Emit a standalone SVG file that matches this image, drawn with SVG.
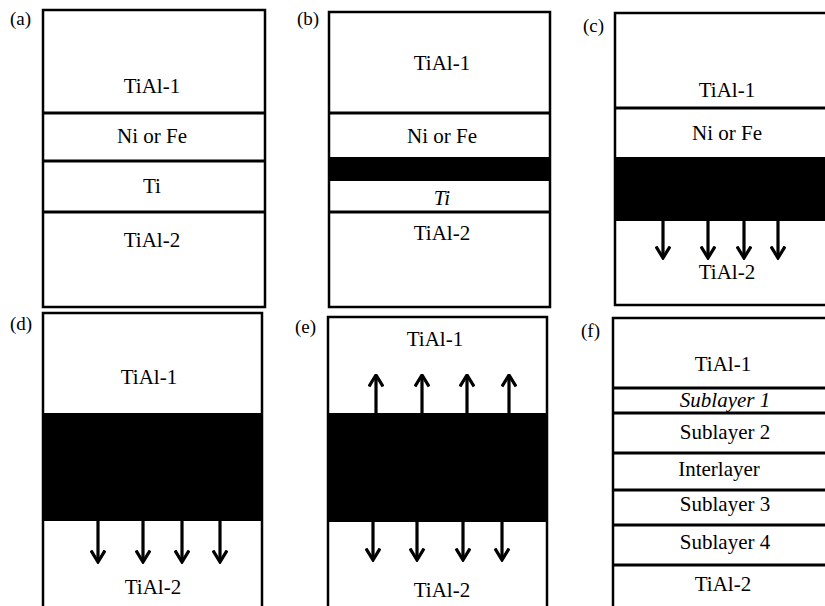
<svg xmlns="http://www.w3.org/2000/svg" width="825" height="606" viewBox="0 0 825 606">
<style>
  .box { fill: #fff; stroke: #000; stroke-width: 2.5; }
  .div { stroke: #000; stroke-width: 3; fill: none; }
  .band { fill: #000; }
  .t { font-family: "Liberation Serif", "Times New Roman", serif; font-size: 21px; text-anchor: middle; fill: #000; }
  .it { font-style: italic; }
  .lab { font-family: "Liberation Serif", "Times New Roman", serif; font-size: 19px; fill: #000; }
  .arr { stroke: #000; stroke-width: 3.2; fill: none; marker-end: url(#head); }
</style>
<defs>
  <marker id="head" viewBox="0 0 14 16" refX="12.5" refY="8" markerWidth="14" markerHeight="16" markerUnits="userSpaceOnUse" orient="auto">
    <path d="M1,1 L12.5,8 L1,15" fill="none" stroke="#000" stroke-width="3.2"/>
  </marker>
</defs>
<rect width="825" height="606" fill="#fff"/>

<g id="panel-a">
  <rect class="box" x="43" y="10" width="222" height="297"/>
  <line class="div" x1="43" y1="113" x2="265" y2="113"/>
  <line class="div" x1="43" y1="161" x2="265" y2="161"/>
  <line class="div" x1="43" y1="212" x2="265" y2="212"/>
  <text class="lab" x="10" y="25">(a)</text>
  <text class="t" x="152" y="93">TiAl-1</text>
  <text class="t" x="152" y="143">Ni or Fe</text>
  <text class="t" x="152" y="193">Ti</text>
  <text class="t" x="152" y="247">TiAl-2</text>
</g>

<g id="panel-b">
  <rect class="box" x="329" y="12" width="221" height="295"/>
  <line class="div" x1="329" y1="113" x2="550" y2="113"/>
  <rect class="band" x="329" y="157" width="221" height="24"/>
  <line class="div" x1="329" y1="212" x2="550" y2="212"/>
  <text class="lab" x="297" y="25">(b)</text>
  <text class="t" x="442" y="70">TiAl-1</text>
  <text class="t" x="442" y="143">Ni or Fe</text>
  <text class="t it" x="442" y="205">Ti</text>
  <text class="t" x="442" y="240">TiAl-2</text>
</g>

<g id="panel-c">
  <rect class="box" x="615" y="13" width="215" height="292"/>
  <line class="div" x1="615" y1="108" x2="830" y2="108"/>
  <rect class="band" x="615" y="157" width="215" height="64"/>
  <text class="lab" x="583" y="32">(c)</text>
  <text class="t" x="727" y="97">TiAl-1</text>
  <text class="t" x="727" y="140">Ni or Fe</text>
  <text class="t" x="727" y="279">TiAl-2</text>
</g>

<g id="panel-d">
  <rect class="box" x="43" y="313" width="219" height="300"/>
  <rect class="band" x="43" y="413" width="219" height="108"/>
  <text class="lab" x="10" y="330">(d)</text>
  <text class="t" x="149" y="384">TiAl-1</text>
  <text class="t" x="153" y="594">TiAl-2</text>
</g>

<g id="panel-e">
  <rect class="box" x="328" y="317" width="219" height="300"/>
  <rect class="band" x="328" y="413" width="219" height="109"/>
  <text class="lab" x="295" y="333">(e)</text>
  <text class="t" x="435" y="346">TiAl-1</text>
  <text class="t" x="442" y="597">TiAl-2</text>
</g>

<g id="panel-f">
  <rect class="box" x="613" y="318" width="220" height="300"/>
  <line class="div" x1="613" y1="388" x2="833" y2="388"/>
  <line class="div" x1="613" y1="413" x2="833" y2="413"/>
  <line class="div" x1="613" y1="453" x2="833" y2="453"/>
  <line class="div" x1="613" y1="490" x2="833" y2="490"/>
  <line class="div" x1="613" y1="525" x2="833" y2="525"/>
  <line class="div" x1="613" y1="565" x2="833" y2="565"/>
  <text class="lab" x="581" y="337">(f)</text>
  <text class="t" x="723" y="371">TiAl-1</text>
  <text class="t it" x="725" y="407">Sublayer 1</text>
  <text class="t" x="725" y="439">Sublayer 2</text>
  <text class="t" x="719" y="476">Interlayer</text>
  <text class="t" x="725" y="511">Sublayer 3</text>
  <text class="t" x="725" y="549">Sublayer 4</text>
  <text class="t" x="723" y="591">TiAl-2</text>
</g>

<g id="connectors">
  <line class="arr" x1="663" y1="221" x2="663" y2="258"/>
  <line class="arr" x1="708" y1="221" x2="708" y2="258"/>
  <line class="arr" x1="744" y1="221" x2="744" y2="258"/>
  <line class="arr" x1="778" y1="221" x2="778" y2="258"/>

  <line class="arr" x1="98" y1="521" x2="98" y2="562"/>
  <line class="arr" x1="143" y1="521" x2="143" y2="562"/>
  <line class="arr" x1="182" y1="521" x2="182" y2="562"/>
  <line class="arr" x1="220" y1="521" x2="220" y2="562"/>

  <line class="arr" x1="376" y1="413" x2="376" y2="375"/>
  <line class="arr" x1="422" y1="413" x2="422" y2="375"/>
  <line class="arr" x1="467" y1="413" x2="467" y2="375"/>
  <line class="arr" x1="509" y1="413" x2="509" y2="375"/>

  <line class="arr" x1="373" y1="522" x2="373" y2="560"/>
  <line class="arr" x1="417" y1="522" x2="417" y2="560"/>
  <line class="arr" x1="463" y1="522" x2="463" y2="560"/>
  <line class="arr" x1="502" y1="522" x2="502" y2="560"/>
</g>
</svg>
